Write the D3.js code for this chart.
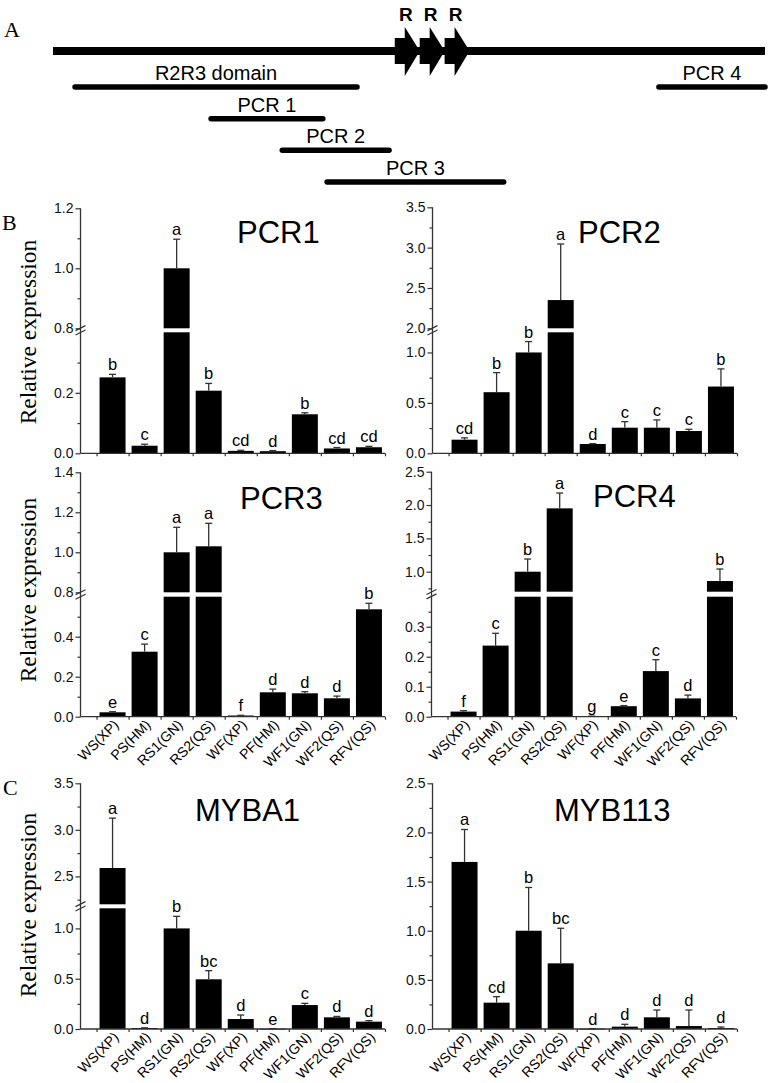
<!DOCTYPE html>
<html><head><meta charset="utf-8">
<script src="https://cdn.jsdelivr.net/npm/d3@7"></script>
<style>body{margin:0;background:#fff}svg{display:block}</style>
</head><body>
<svg id="c" width="771" height="1083"></svg>
<script>
// ---------- DATA ----------
const categories = ["WS(XP)","PS(HM)","RS1(GN)","RS2(QS)","WF(XP)","PF(HM)","WF1(GN)","WF2(QS)","RFV(QS)"];

const pcr1Mean = [0.251,0.025,1.0,0.207,0.008,0.007,0.129,0.016,0.020];
const pcr1Err  = [0.010,0.005,0.097,0.024,0.002,0.002,0.005,0.003,0.003];
const pcr1Letters = ["b","c","a","b","cd","d","b","cd","cd"];

const pcr2Mean = [0.135,0.606,1.0,2.35,0.092,0.254,0.254,0.221,0.662];
const pcr2Err  = [0.018,0.194,0.108,0.695,0.004,0.060,0.077,0.017,0.175];
const pcr2Letters = ["cd","b","b","a","d","c","c","c","b"];

const pcr3Mean = [0.022,0.325,1.0,1.03,0.006,0.122,0.117,0.092,0.537];
const pcr3Err  = [0.003,0.038,0.125,0.115,0.001,0.016,0.008,0.011,0.030];
const pcr3Letters = ["e","c","a","a","f","d","d","d","b"];

const pcr4Mean = [0.017,0.237,1.0,1.95,0.002,0.035,0.152,0.061,0.86];
const pcr4Err  = [0.003,0.041,0.19,0.23,0.0,0.002,0.038,0.011,0.18];
const pcr4Letters = ["f","c","b","a","g","e","c","d","b"];

const myba1Mean = [2.59,0.010,1.0,0.494,0.099,0.003,0.238,0.116,0.073];
const myba1Err  = [0.536,0.002,0.12,0.086,0.040,0.001,0.017,0.009,0.010];
const myba1Letters = ["a","d","b","bc","d","e","c","d","d"];

const myb113Mean = [1.70,0.268,1.0,0.668,0.003,0.024,0.119,0.03,0.01];
const myb113Err  = [0.33,0.061,0.44,0.357,0.001,0.024,0.074,0.163,0.01];
const myb113Letters = ["a","cd","b","bc","d","d","d","d","d"];

// axis segments (value domains) and ticks
const pcr1Lower = [0,0.4],  pcr1Upper = [0.8,1.2];
const pcr1LowerTicks = [0,0.2], pcr1LowerMinor = [0.1,0.3];
const pcr1UpperTicks = [0.8,1.0,1.2], pcr1UpperMinor = [0.9,1.1];

const pcr2Lower = [0,1.2],  pcr2Upper = [2.0,3.5];
const pcr2LowerTicks = [0,0.5,1.0], pcr2LowerMinor = [0.25,0.75];
const pcr2UpperTicks = [2.0,2.5,3.0,3.5], pcr2UpperMinor = [2.25,2.75,3.25];

const pcr3Lower = [0,0.6],  pcr3Upper = [0.8,1.4];
const pcr3LowerTicks = [0,0.2,0.4], pcr3LowerMinor = [0.1,0.3,0.5];
const pcr3UpperTicks = [0.8,1.0,1.2,1.4], pcr3UpperMinor = [0.9,1.1,1.3];

const pcr4Lower = [0,0.4],  pcr4Upper = [0.7,2.5];
const pcr4LowerTicks = [0,0.1,0.2,0.3], pcr4LowerMinor = [0.05,0.15,0.25,0.35];
const pcr4UpperTicks = [1.0,1.5,2.0,2.5], pcr4UpperMinor = [0.75,1.25,1.75,2.25];

const myba1Lower = [0,1.2], myba1Upper = [2.2,3.5];
const myba1LowerTicks = [0,0.5,1.0], myba1LowerMinor = [0.25,0.75];
const myba1UpperTicks = [2.5,3.0,3.5], myba1UpperMinor = [2.25,2.75,3.25];

const myb113Dom = [0,2.5];
const myb113Ticks = [0,0.5,1.0,1.5,2.0,2.5], myb113Minor = [0.25,0.75,1.25,1.75,2.25];

// gene diagram (relative gene coordinates 0..1000)
const geneLength = 1000;
const featureNames = ["R2R3 domain","PCR 1","PCR 2","PCR 3","PCR 4"];
const featureStart = [31,222,322,385,851];
const featureEnd   = [427,379,472,633,1000];
const featureLane  = [0,1,2,3,0];
const repeatStart  = [480,515,550];
const repeatLabels = ["R","R","R"];

// ---------- DRAW ----------
const svg = d3.select("#c");
const SANS = "'Liberation Sans', Arial, Helvetica, sans-serif";
const SERIF = "'Liberation Serif', 'Times New Roman', serif";
const AX = "#333";

// Panel A
(function(){
  const gx = d3.scaleLinear().domain([0, geneLength]).range([53, 765]);
  const lineY = 51;
  const laneY = d3.scaleLinear().domain([0,3]).range([87,182]);
  const gA = svg.append("g");
  gA.append("line").attr("x1", gx(0)).attr("x2", gx(geneLength)).attr("y1", lineY).attr("y2", lineY)
    .attr("stroke","#000").attr("stroke-width",8);
  repeatStart.forEach((s,i)=>{
    const x0 = gx(s);
    const pts = [[x0,lineY-13],[x0+10,lineY-13],[x0+10,lineY-24],[x0+25,lineY],[x0+10,lineY+25],[x0+10,lineY+13],[x0,lineY+13]];
    gA.append("polygon").attr("points", pts.map(p=>p.join(",")).join(" ")).attr("fill","#000");
    gA.append("text").attr("x", x0+11).attr("y", 21).attr("text-anchor","middle")
      .attr("font-family",SANS).attr("font-weight","bold").attr("font-size",19).text(repeatLabels[i]);
  });
  featureNames.forEach((n,i)=>{
    const y = laneY(featureLane[i]);
    gA.append("line").attr("x1", gx(featureStart[i])).attr("x2", gx(featureEnd[i])).attr("y1", y).attr("y2", y)
      .attr("stroke","#000").attr("stroke-width",5.5).attr("stroke-linecap","round");
    gA.append("text").attr("x", (gx(featureStart[i])+gx(featureEnd[i]))/2).attr("y", y-7)
      .attr("text-anchor","middle").attr("font-family",SANS).attr("font-size",20).text(n);
  });
})();

// panel letters
[["A",4,37],["B",2,230],["C",3,795]].forEach(([t,x,y])=>{
  svg.append("text").attr("x",x).attr("y",y).attr("font-family",SERIF).attr("font-size",22).text(t);
});
// y labels
[332,590,905].forEach(cy=>{
  svg.append("text").attr("transform",`translate(36,${cy}) rotate(-90)`).attr("text-anchor","middle")
    .attr("font-family",SERIF).attr("font-size",23.5).text("Relative expression");
});

function panel(cfg){
  const g = svg.append("g");
  const x = d3.scaleLinear().domain([0,9.5]).range([cfg.ax, cfg.ax + 9.5*32.05]);
  const barW = 26;
  const segs = cfg.segs.map(s=>({...s, scale: d3.scaleLinear().domain(s.dom).range([s.bottom, s.top])}));
  const segFor = v => segs.slice().reverse().find((s,k,arr)=> v >= (s===segs[0]?0:s.dom[0])) || segs[0];
  // bars
  cfg.mean.forEach((v,i)=>{
    const cx = x(i+1);
    segs.forEach((s,k)=>{
      const lo = k===0 ? 0 : s.dom[0];
      if (v <= lo) return;
      const hi = Math.min(v, s.dom[1]);
      const y1 = s.scale(hi), y0 = s.scale(lo);
      g.append("rect").attr("x", cx-barW/2).attr("y", y1).attr("width", barW).attr("height", Math.max(0.8, y0-y1)).attr("fill","#000");
    });
    const top = v + cfg.err[i];
    const yTop = segFor(top).scale(top), yV = segFor(v).scale(v);
    if (yV - yTop > 0.5) {
      g.append("line").attr("x1",cx).attr("x2",cx).attr("y1",yV).attr("y2",yTop).attr("stroke",AX).attr("stroke-width",1.3);
    }
    g.append("line").attr("x1",cx-3.5).attr("x2",cx+3.5).attr("y1",yTop).attr("y2",yTop).attr("stroke",AX).attr("stroke-width",1.3);
    g.append("text").attr("x",cx).attr("y",yTop-4).attr("text-anchor","middle").attr("font-family",SANS)
      .attr("font-size",16.5).text(cfg.letters[i]);
  });
  // y axis line continuous
  const yTopAll = segs[segs.length-1].top, yBot = segs[0].bottom;
  g.append("line").attr("x1",cfg.ax).attr("x2",cfg.ax).attr("y1",yBot).attr("y2",yTopAll).attr("stroke",AX).attr("stroke-width",1.3);
  segs.forEach(s=>{
    const ax1 = g.append("g").attr("transform",`translate(${cfg.ax},0)`)
      .call(d3.axisLeft(s.scale).tickValues(s.major).tickSize(5).tickSizeOuter(0).tickPadding(2).tickFormat(d3.format(".1f")));
    ax1.select(".domain").remove();
    ax1.selectAll("line").attr("stroke",AX).attr("stroke-width",1.2);
    ax1.selectAll("text").attr("font-family",SANS).attr("font-size",14).attr("fill","#111");
    const ax2 = g.append("g").attr("transform",`translate(${cfg.ax},0)`)
      .call(d3.axisLeft(s.scale).tickValues(s.minor).tickSize(3).tickSizeOuter(0).tickFormat(""));
    ax2.select(".domain").remove();
    ax2.selectAll("line").attr("stroke",AX).attr("stroke-width",1.2);
  });
  // break marks
  if (segs.length > 1) {
    const ym = (segs[0].top + segs[1].bottom)/2;
    [-2.2, 2.2].forEach(d=>{
      g.append("line").attr("x1",cfg.ax-5).attr("y1",ym+d+2.5).attr("x2",cfg.ax+5).attr("y2",ym+d-2.5)
        .attr("stroke",AX).attr("stroke-width",1.2);
    });
  }
  // x axis
  const xa = g.append("g").attr("transform",`translate(0,${cfg.ay})`)
    .call(d3.axisBottom(x).tickValues(d3.range(0.5,9.6,1)).tickSize(3).tickSizeOuter(0).tickFormat(""));
  xa.select(".domain").attr("stroke",AX).attr("stroke-width",1.3).attr("d",`M${cfg.ax},0H${x(9.5)}`);
  xa.selectAll("line").attr("stroke",AX).attr("stroke-width",1.2);
  if (cfg.xLabels) {
    categories.forEach((c,i)=>{
      g.append("text").attr("transform",`translate(${x(i+1)+7},${cfg.ay+9}) rotate(-45)`)
        .attr("text-anchor","end").attr("font-family",SANS).attr("font-size",14).text(c);
    });
  }
  // title
  g.append("text").attr("x",cfg.tx).attr("y",cfg.ty).attr("font-family",SANS).attr("font-size",31).text(cfg.title);
}

const L = 80.5, R = 432.5;
panel({ax:L, ay:453.3, title:"PCR1", tx:237, ty:243, mean:pcr1Mean, err:pcr1Err, letters:pcr1Letters, xLabels:false,
  segs:[{dom:pcr1Lower, bottom:453.3, top:332.3, major:pcr1LowerTicks, minor:pcr1LowerMinor},
        {dom:pcr1Upper, bottom:328.3, top:208.3, major:pcr1UpperTicks, minor:pcr1UpperMinor}]});
panel({ax:R, ay:453.3, title:"PCR2", tx:578, ty:243, mean:pcr2Mean, err:pcr2Err, letters:pcr2Letters, xLabels:false,
  segs:[{dom:pcr2Lower, bottom:453.3, top:332.3, major:pcr2LowerTicks, minor:pcr2LowerMinor},
        {dom:pcr2Upper, bottom:328.3, top:207.3, major:pcr2UpperTicks, minor:pcr2UpperMinor}]});
panel({ax:L, ay:716.7, title:"PCR3", tx:240, ty:509, mean:pcr3Mean, err:pcr3Err, letters:pcr3Letters, xLabels:true,
  segs:[{dom:pcr3Lower, bottom:716.7, top:596.7, major:pcr3LowerTicks, minor:pcr3LowerMinor},
        {dom:pcr3Upper, bottom:592.3, top:472.3, major:pcr3UpperTicks, minor:pcr3UpperMinor}]});
panel({ax:R-1, ay:716.7, title:"PCR4", tx:593, ty:507, mean:pcr4Mean, err:pcr4Err, letters:pcr4Letters, xLabels:true,
  segs:[{dom:pcr4Lower, bottom:716.7, top:596.7, major:pcr4LowerTicks, minor:pcr4LowerMinor},
        {dom:pcr4Upper, bottom:591.7, top:471.7, major:pcr4UpperTicks, minor:pcr4UpperMinor}]});
panel({ax:L, ay:1029, title:"MYBA1", tx:195, ty:821, mean:myba1Mean, err:myba1Err, letters:myba1Letters, xLabels:true,
  segs:[{dom:myba1Lower, bottom:1029, top:908.3, major:myba1LowerTicks, minor:myba1LowerMinor},
        {dom:myba1Upper, bottom:904.3, top:783.3, major:myba1UpperTicks, minor:myba1UpperMinor}]});
panel({ax:R, ay:1029, title:"MYB113", tx:554, ty:821, mean:myb113Mean, err:myb113Err, letters:myb113Letters, xLabels:true,
  segs:[{dom:myb113Dom, bottom:1029, top:783.3, major:myb113Ticks, minor:myb113Minor}]});
</script>
</body></html>
